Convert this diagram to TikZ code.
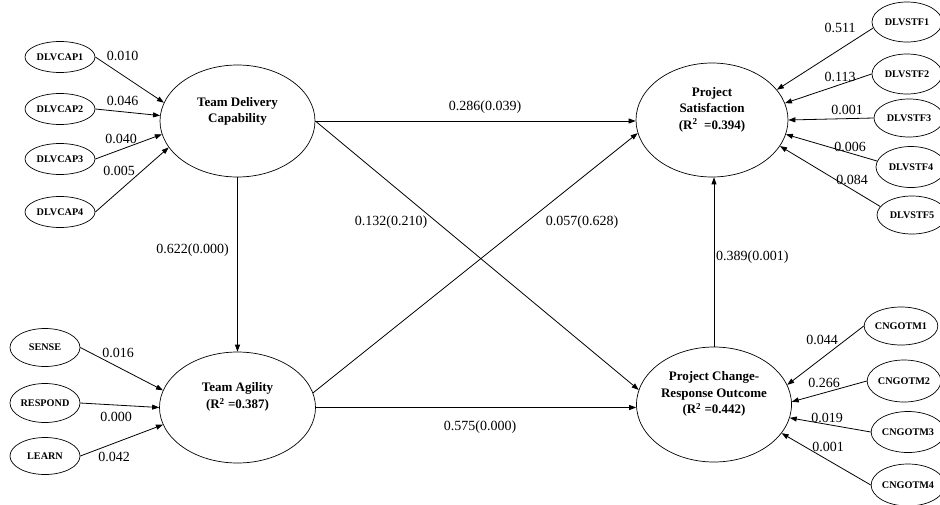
\documentclass[tikz,border=0pt]{standalone}
\usepackage{fontspec}
\setmainfont{Liberation Serif}
\usetikzlibrary{shapes.geometric,arrows.meta}
\begin{document}
\begin{tikzpicture}[x=1pt,y=-1pt,
  latent/.style={draw, ellipse, line width=0.7pt, inner sep=0pt},
  ind/.style={draw, ellipse, line width=0.7pt, minimum width=70pt, inner sep=0pt,
    font=\fontsize{10.2}{12}\selectfont\bfseries},
  ltext/.style={align=center, inner sep=0pt, font=\fontsize{13}{16.5}\selectfont\bfseries},
  coef/.style={inner sep=0pt, font=\fontsize{14}{16}\selectfont},
  arr/.style={draw, line width=0.8pt, -{Triangle[length=7pt,width=5pt]}}
]
\useasboundingbox (0,0) rectangle (940,504);

% latent constructs
\node[latent, minimum width=155pt, minimum height=112pt] (tdc) at (237.5,121) {};
\node[ltext] (tdct) at (237.5,111.5) {Team Delivery\\Capability};
\node[latent, minimum width=156pt, minimum height=111pt] (ta) at (237.5,407.5) {};
\node[ltext] (tat) at (237.5,397) {Team Agility\\(R\textsuperscript{2} =0.387)};
\node[latent, minimum width=152pt, minimum height=114pt] (ps) at (712,120) {};
\node[ltext] (pst) at (712,109.5) {Project\\Satisfaction\\(R\textsuperscript{2}\ \ =0.394)};
\node[latent, minimum width=155pt, minimum height=115pt] (pcro) at (714,404.5) {};
\node[ltext] (pcrot) at (714,394) {Project Change-\\Response Outcome\\(R\textsuperscript{2} =0.442)};

% indicators left top
\node[ind, minimum height=31pt] (cap1) at (60,57) {DLVCAP1};
\node[ind, minimum height=31pt] (cap2) at (60,109) {DLVCAP2};
\node[ind, minimum height=31pt] (cap3) at (60,159) {DLVCAP3};
\node[ind, minimum height=31pt] (cap4) at (60,212) {DLVCAP4};
% indicators left bottom
\node[ind, minimum height=38pt] (sense) at (45,347.5) {SENSE};
\node[ind, minimum height=39pt] (respond) at (45,403) {RESPOND};
\node[ind, minimum height=37pt] (learn) at (45,456) {LEARN};
% indicators right top
\node[ind, minimum height=40pt] (stf1) at (907,22) {DLVSTF1};
\node[ind, minimum height=40pt] (stf2) at (907,74) {DLVSTF2};
\node[ind, minimum height=38pt] (stf3) at (909,118) {DLVSTF3};
\node[ind, minimum height=41pt] (stf4) at (911,167) {DLVSTF4};
\node[ind, minimum height=38pt] (stf5) at (912,215) {DLVSTF5};
% indicators right bottom
\node[ind, minimum height=38pt] (otm1) at (901,326) {CNGOTM1};
\node[ind, minimum height=42pt] (otm2) at (904,381) {CNGOTM2};
\node[ind, minimum height=41pt] (otm3) at (908,432) {CNGOTM3};
\node[ind, minimum height=42pt] (otm4) at (908,485) {CNGOTM4};

% measurement arrows
\draw[arr] (cap1.east) -- (tdc.166);
\draw[arr] (cap2.east) -- (tdc.176);
\draw[arr] (cap3.east) -- (tdc.190);
\draw[arr] (cap4.east) -- (tdc.201);
\draw[arr] (sense.east) -- (ta.167);
\draw[arr] (respond.east) -- (ta.180);
\draw[arr] (learn.east) -- (ta.193);
\draw[arr] (stf1.190) -- (ps.25);
\draw[arr] (stf2.west) -- (ps.13);
\draw[arr] (stf3.west) -- (ps.0);
\draw[arr] (stf4.170) -- (ps.349);
\draw[arr] (stf5.165) -- (ps.339);
\draw[arr] (otm1.west) -- (pcro.15);
\draw[arr] (otm2.west) -- (pcro.2);
\draw[arr] (otm3.west) -- (pcro.350);
\draw[arr] (otm4.west) -- (pcro.337);

% structural arrows
\coordinate (psin) at (tdc.east -| ps.west);
\coordinate (pcroin) at (ta.east -| pcro.west);
\coordinate (psbot) at (pcro.north |- ps.south);
\draw[arr] (tdc.east) -- (psin);
\draw[arr] (tdc.east) -- (pcro.169);
\draw[arr] (ta.11) -- (ps.190);
\draw[arr] (ta.east) -- (pcroin);
\draw[arr] (tdc.south) -- (ta.north);
\draw[arr] (pcro.north) -- (psbot);

% coefficients
\node[coef] (c1) at (122.5,56) {0.010};
\node[coef] (c2) at (122.5,101) {0.046};
\node[coef] (c3) at (121,139) {0.040};
\node[coef] (c4) at (119,171) {0.005};
\node[coef] (c5) at (192.5,250) {0.622(0.000)};
\node[coef] (c6) at (118,353) {0.016};
\node[coef] (c7) at (116,417) {0.000};
\node[coef] (c8) at (114,457) {0.042};
\node[coef] (c9) at (485,107) {0.286(0.039)};
\node[coef] (c10) at (391,222) {0.132(0.210)};
\node[coef] (c11) at (582,222) {0.057(0.628)};
\node[coef, anchor=west] (c12) at (716,257) {0.389(0.001)};
\node[coef] (c13) at (480,427) {0.575(0.000)};
\node[coef] (c14) at (840,28) {0.511};
\node[coef] (c15) at (840,77) {0.113};
\node[coef] (c16) at (847,110) {0.001};
\node[coef] (c17) at (850,147) {0.006};
\node[coef] (c18) at (852,180) {0.084};
\node[coef] (c19) at (822,340) {0.044};
\node[coef] (c20) at (824,383) {0.266};
\node[coef] (c21) at (827,418) {0.019};
\node[coef] (c22) at (828,447) {0.001};
\end{tikzpicture}
\end{document}
